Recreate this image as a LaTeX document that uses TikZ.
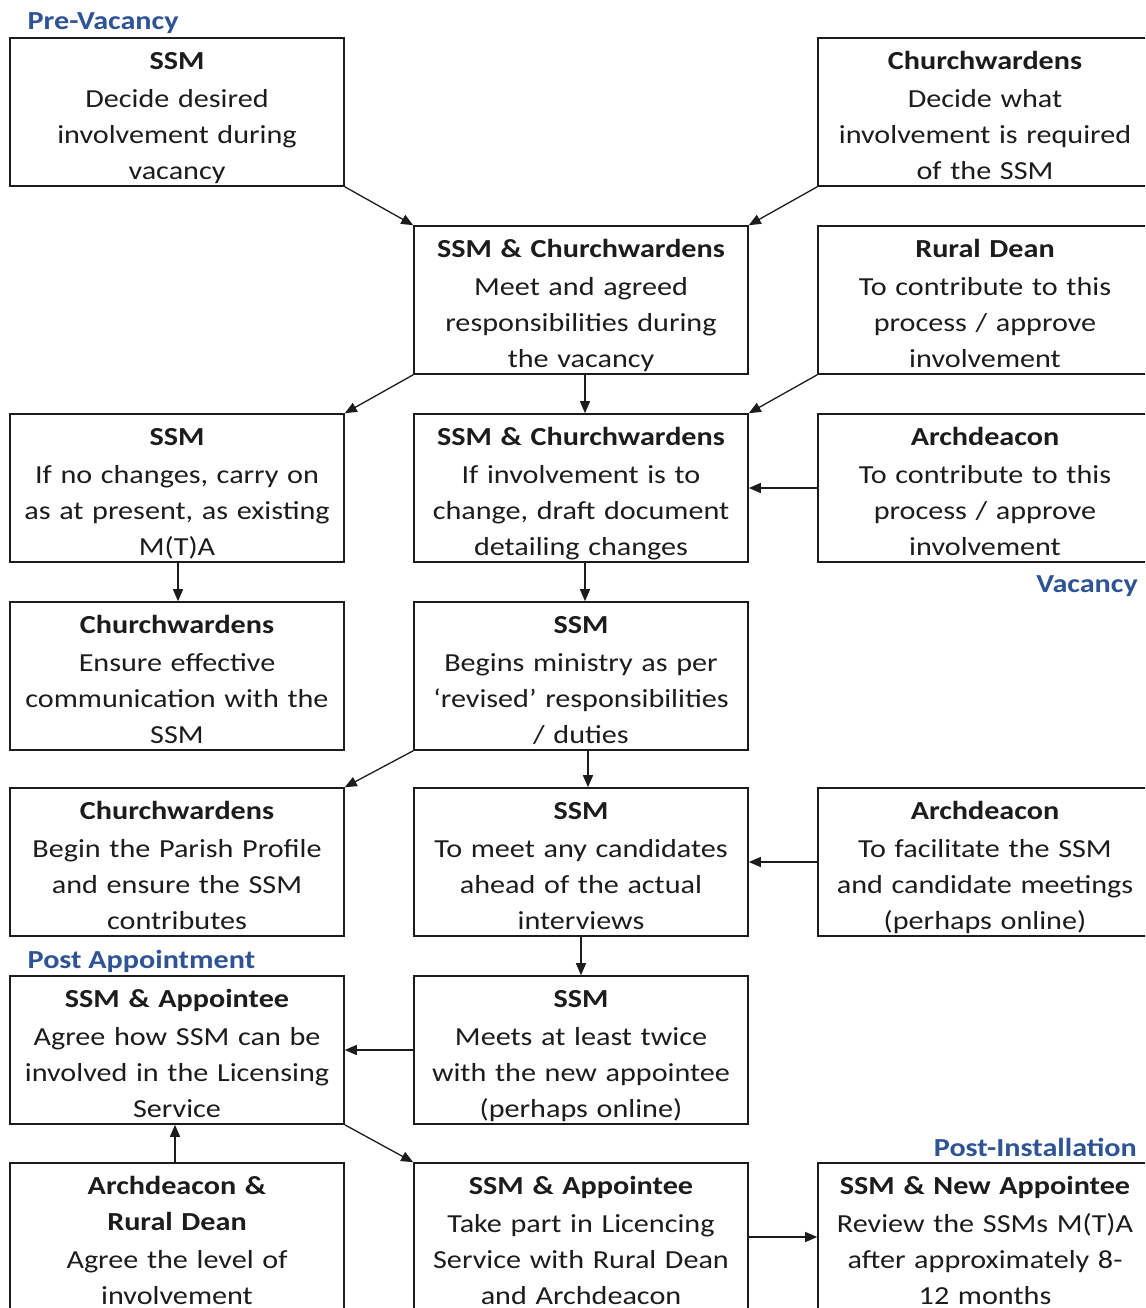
\documentclass[tikz,border=0pt]{standalone}
\usepackage{fontspec}
\setmainfont{Carlito}[FakeStretch=1.16]
\usetikzlibrary{arrows.meta}
\definecolor{headblue}{RGB}{47,84,150}
\definecolor{ink}{RGB}{28,28,28}
\begin{document}
\begin{tikzpicture}[x=1pt,y=-1pt,
  box/.style={draw=ink,line width=1.6pt,minimum width=334pt,minimum height=148pt,inner sep=0pt},
  txt/.style={anchor=base,text width=334pt,align=center,inner sep=0pt,text=ink,font=\fontsize{26}{36}\selectfont},
  lbl/.style={inner sep=0pt,text=headblue,font=\fontsize{26}{30}\selectfont\bfseries},
  arr/.style={draw=ink,line width=1.3pt,-{Triangle[length=12pt,width=10pt]}}]
\useasboundingbox (0,0) rectangle (1145,1308);
\clip (0,0) rectangle (1145,1308);
\fill[white] (0,0) rectangle (1145,1308);

% boxes: left x=177, middle x=581, right x=985 ; tops 38,226,414,602,788,976,1163
\node[box] (L1) at (177,112) {};
\node[box] (R1) at (985,112) {};
\node[box] (M2) at (581,300) {};
\node[box] (R2) at (985,300) {};
\node[box] (L3) at (177,488) {};
\node[box] (M3) at (581,488) {};
\node[box] (R3) at (985,488) {};
\node[box] (L4) at (177,676) {};
\node[box] (M4) at (581,676) {};
\node[box] (L5) at (177,862) {};
\node[box] (M5) at (581,862) {};
\node[box] (R5) at (985,862) {};
\node[box] (L6) at (177,1050) {};
\node[box] (M6) at (581,1050) {};
\node[box] (L7) at (177,1237) {};
\node[box] (M7) at (581,1237) {};
\node[box] (R7) at (985,1237) {};

% texts
\node[txt] (tL1) at ([yshift=-32pt]L1.north) {\textbf{SSM}\\[2pt]Decide desired\\involvement during\\vacancy};
\node[txt] (tR1) at ([yshift=-32pt]R1.north) {\textbf{Churchwardens}\\[2pt]Decide what\\involvement is required\\of the SSM};
\node[txt] (tM2) at ([yshift=-32pt]M2.north) {\textbf{SSM \& Churchwardens}\\[2pt]Meet and agreed\\responsibilities during\\the vacancy};
\node[txt] (tR2) at ([yshift=-32pt]R2.north) {\textbf{Rural Dean}\\[2pt]To contribute to this\\process / approve\\involvement};
\node[txt] (tL3) at ([yshift=-32pt]L3.north) {\textbf{SSM}\\[2pt]If no changes, carry on\\as at present, as existing\\M(T)A};
\node[txt] (tM3) at ([yshift=-32pt]M3.north) {\textbf{SSM \& Churchwardens}\\[2pt]If involvement is to\\change, draft document\\detailing changes};
\node[txt] (tR3) at ([yshift=-32pt]R3.north) {\textbf{Archdeacon}\\[2pt]To contribute to this\\process / approve\\involvement};
\node[txt] (tL4) at ([yshift=-32pt]L4.north) {\textbf{Churchwardens}\\[2pt]Ensure effective\\communication with the\\SSM};
\node[txt] (tM4) at ([yshift=-32pt]M4.north) {\textbf{SSM}\\[2pt]Begins ministry as per\\‘revised’ responsibilities\\/ duties};
\node[txt] (tL5) at ([yshift=-32pt]L5.north) {\textbf{Churchwardens}\\[2pt]Begin the Parish Profile\\and ensure the SSM\\contributes};
\node[txt] (tM5) at ([yshift=-32pt]M5.north) {\textbf{SSM}\\[2pt]To meet any candidates\\ahead of the actual\\interviews};
\node[txt] (tR5) at ([yshift=-32pt]R5.north) {\textbf{Archdeacon}\\[2pt]To facilitate the SSM\\and candidate meetings\\(perhaps online)};
\node[txt] (tL6) at ([yshift=-32pt]L6.north) {\textbf{SSM \& Appointee}\\[2pt]Agree how SSM can be\\involved in the Licensing\\Service};
\node[txt] (tM6) at ([yshift=-32pt]M6.north) {\textbf{SSM}\\[2pt]Meets at least twice\\with the new appointee\\(perhaps online)};
\node[txt] (tL7) at ([yshift=-32pt]L7.north) {\textbf{Archdeacon \&}\\\textbf{Rural Dean}\\[2pt]Agree the level of\\involvement};
\node[txt] (tM7) at ([yshift=-32pt]M7.north) {\textbf{SSM \& Appointee}\\[2pt]Take part in Licencing\\Service with Rural Dean\\and Archdeacon};
\node[txt] (tR7) at ([yshift=-32pt]R7.north) {\textbf{SSM \& New Appointee}\\[2pt]Review the SSMs M(T)A\\after approximately 8-\\12 months};

% stage labels
\node[lbl,anchor=base west] (pre) at (27.5,30) {Pre-Vacancy};
\node[lbl,anchor=base east] (vac) at (1138,592) {Vacancy};
\node[lbl,anchor=base west] (postapp) at (27.5,968) {Post Appointment};
\node[lbl,anchor=base east] (postinst) at (1137,1156) {Post-Installation};

% connectors
\draw[arr] (L1.south east) -- (M2.north west);
\draw[arr] (R1.south west) -- (M2.north east);
\draw[arr] (M2.south west) -- (L3.north east);
\draw[arr] ([xshift=4pt]M2.south) -- ([xshift=4pt]M3.north);
\draw[arr] (R2.south west) -- (M3.north east);
\draw[arr] (R3.west) -- (M3.east);
\draw[arr] ([xshift=1pt]L3.south) -- ([xshift=1pt]L4.north);
\draw[arr] ([xshift=4pt]M3.south) -- ([xshift=4pt]M4.north);
\draw[arr] (M4.south west) -- (L5.north east);
\draw[arr] ([xshift=7pt]M4.south) -- ([xshift=7pt]M5.north);
\draw[arr] (R5.west) -- (M5.east);
\draw[arr] (M5.south) -- (M6.north);
\draw[arr] (M6.west) -- (L6.east);
\draw[arr] ([xshift=-2pt]L7.north) -- ([xshift=-2pt]L6.south);
\draw[arr] (L6.south east) -- (M7.north west);
\draw[arr] (M7.east) -- (R7.west);
\end{tikzpicture}
\end{document}
